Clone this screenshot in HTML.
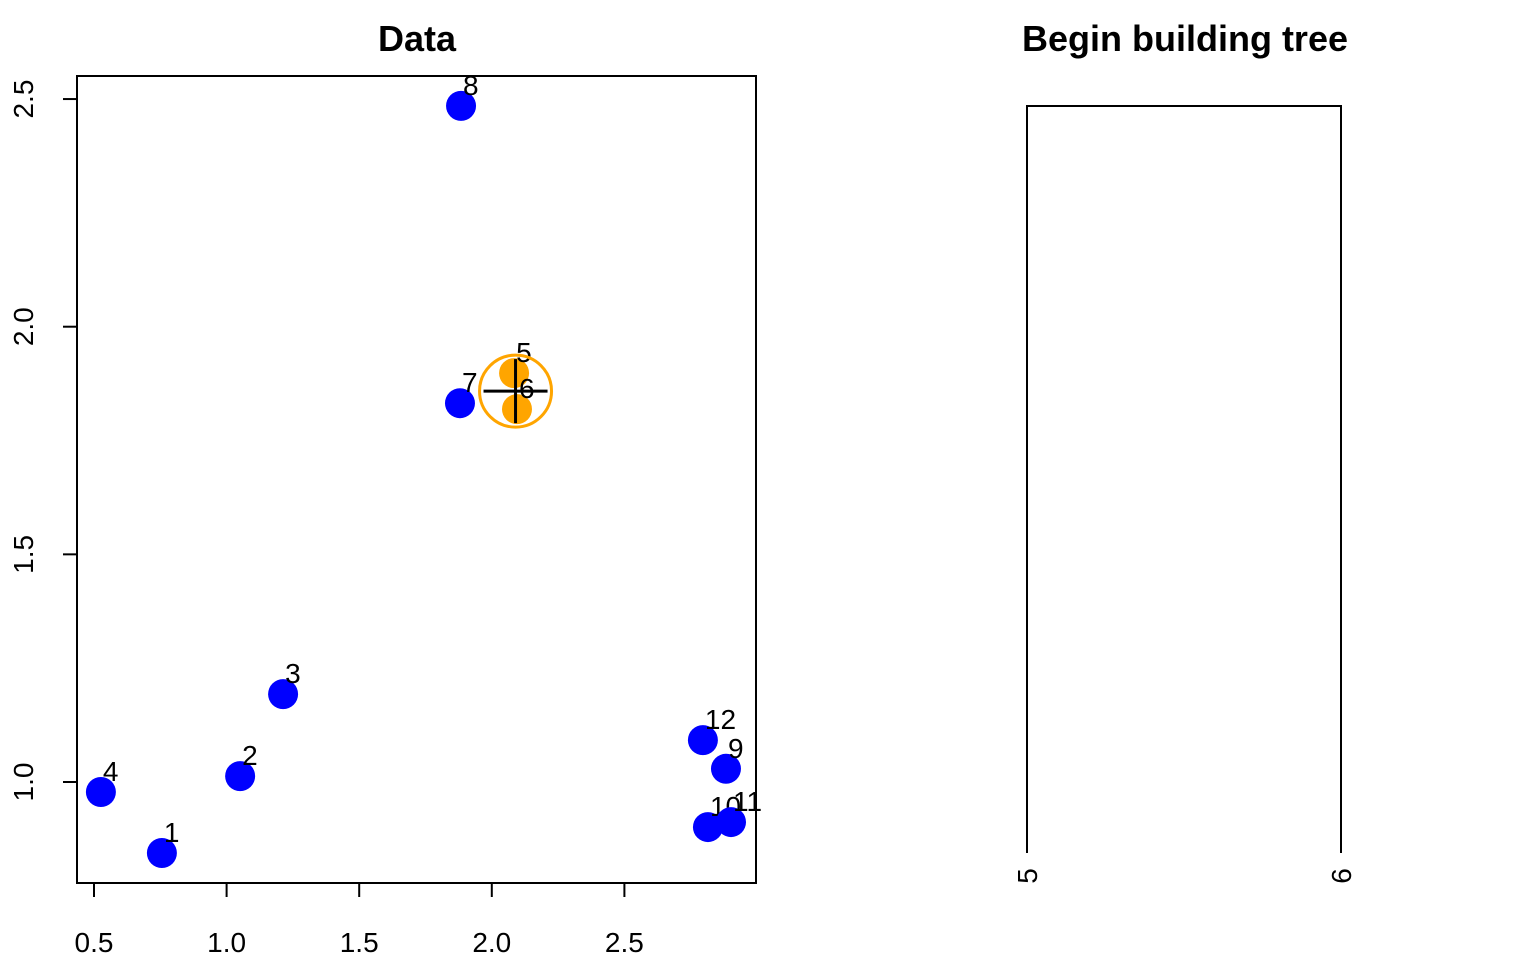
<!DOCTYPE html>
<html><head><meta charset="utf-8"><style>
body{margin:0;background:#fff}
svg{display:block;font-family:"Liberation Sans",Arial,sans-serif}
</style></head><body>
<svg id="c" width="1536" height="960"></svg>
<script>
const xs=[0.756,1.051,1.213,0.526,2.084,2.095,1.880,1.884,2.883,2.815,2.902,2.796];
const ys=[0.844,1.013,1.193,0.978,1.898,1.819,1.832,2.485,1.029,0.901,0.912,1.092];
const pointLabels=["1","2","3","4","5","6","7","8","9","10","11","12"];
const clusterMembers=[4,5];
const xTicks=[0.5,1.0,1.5,2.0,2.5];
const yTicks=[1.0,1.5,2.0,2.5];
const treeLeaves=["5","6"];
const mergeHeight=[1];
const NS="http://www.w3.org/2000/svg";
const svgRoot=document.getElementById('c');
function mk(t,a,p){const e=document.createElementNS(NS,t);for(const k in a)e.setAttribute(k,a[k]);(p||svgRoot).appendChild(e);return e;}
const X=v=>94+(v-0.5)*265.2, Y=v=>782-(v-1)*455.3;
let t=mk('text',{x:417,y:51,'text-anchor':'middle','font-size':36,'font-weight':'bold'});t.textContent='Data';


let r=mk('rect',{x:77,y:76,width:679,height:807,fill:'none',stroke:'#000','stroke-width':2});


mk('line',{x1:X(0.5),x2:X(2.5),y1:883,y2:883,stroke:'#000','stroke-width':2});
xTicks.forEach(v=>{mk('line',{x1:X(v),x2:X(v),y1:883,y2:897,stroke:'#000','stroke-width':2});
 const e=mk('text',{x:X(v),y:952,'text-anchor':'middle','font-size':28});e.textContent=v.toFixed(1);
 
 });
yTicks.forEach(v=>{mk('line',{x1:63,x2:77,y1:Y(v),y2:Y(v),stroke:'#000','stroke-width':2});
 const e=mk('text',{x:0,y:0,'text-anchor':'middle','font-size':28,transform:`translate(33,${Y(v)}) rotate(-90)`});e.textContent=v.toFixed(1);
 
 });
xs.forEach((v,i)=>{const inC=clusterMembers.includes(i);
 const c=mk('circle',{cx:X(v),cy:Y(ys[i]),r:15,fill:inC?'#FFA500':'#0000FF'});
 
 
 const l=mk('text',{x:X(v)+2,y:Y(ys[i])-11,'font-size':28});l.textContent=pointLabels[i];
 
 });
let ccx=0,ccy=0;clusterMembers.forEach(i=>{ccx+=xs[i]/clusterMembers.length;ccy+=ys[i]/clusterMembers.length;});
let ring=mk('circle',{cx:X(ccx),cy:Y(ccy),r:36,fill:'none',stroke:'#FFA500','stroke-width':3});


mk('line',{x1:X(ccx)-32,x2:X(ccx)+32,y1:Y(ccy),y2:Y(ccy),stroke:'#000','stroke-width':3});
mk('line',{x1:X(ccx),x2:X(ccx),y1:Y(ccy)-32,y2:Y(ccy)+32,stroke:'#000','stroke-width':3});
t=mk('text',{x:1185,y:51,'text-anchor':'middle','font-size':36,'font-weight':'bold'});t.textContent='Begin building tree';


const TX=i=>1027+i*314, TY=h=>853-h*747;
const mergeY=TY(mergeHeight[0]);
let br=mk('path',{d:`M${TX(0)},${TY(0)}V${mergeY}H${TX(1)}V${TY(0)}`,fill:'none',stroke:'#000','stroke-width':2});


treeLeaves.forEach((s,i)=>{const e=mk('text',{x:0,y:0,'text-anchor':'middle','font-size':28,transform:`translate(${TX(i)+10},876) rotate(-90)`});e.textContent=s;
 
 });
</script></body></html>
